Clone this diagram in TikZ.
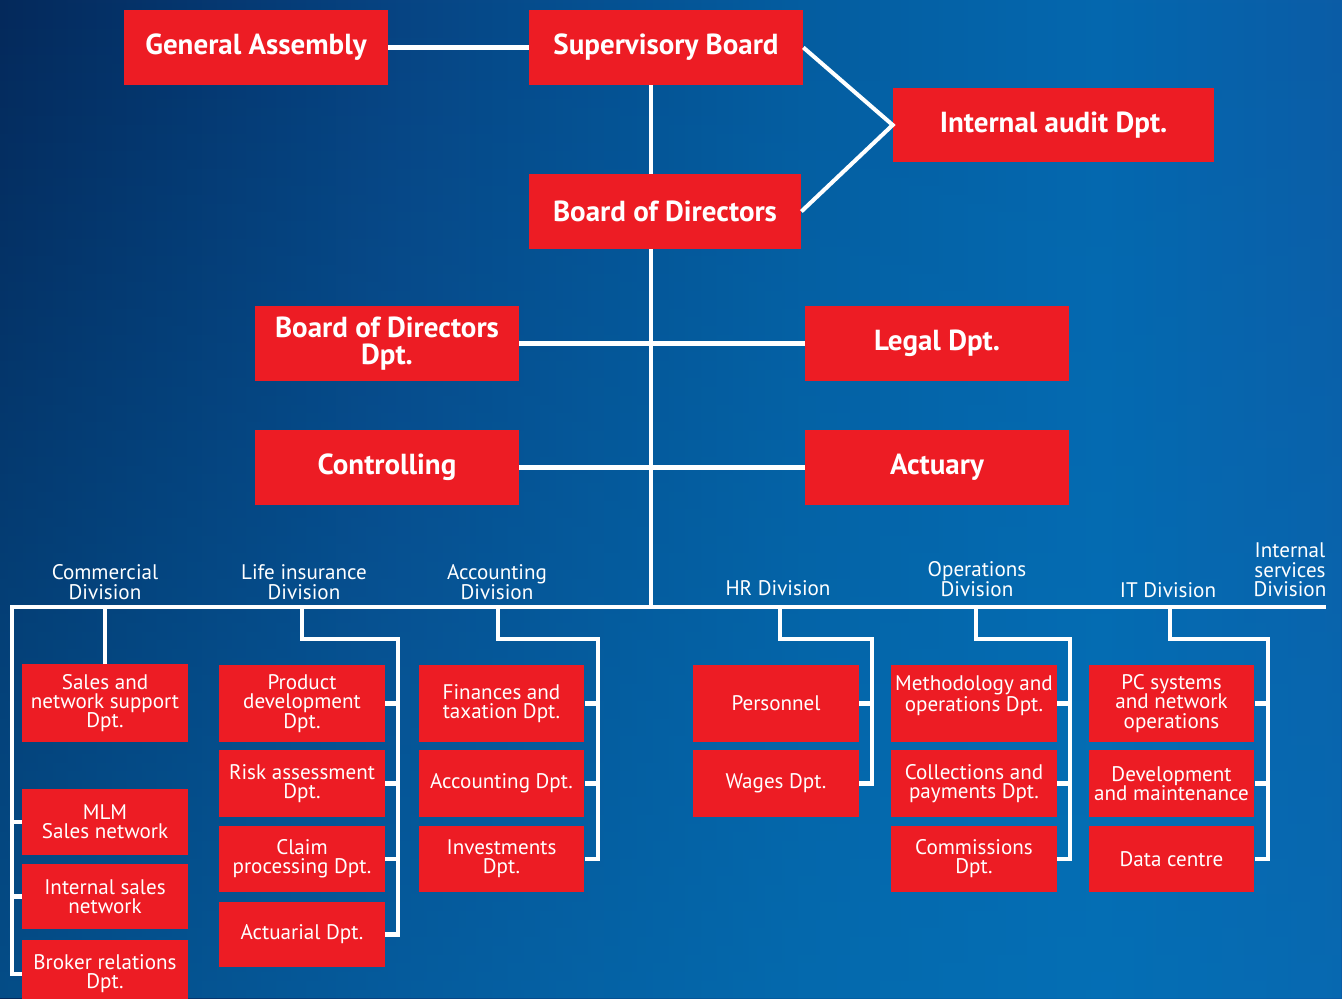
\documentclass[tikz,border=0pt]{standalone}
\usepackage{fontspec}
\setmainfont{PT Sans}
\usepackage{xcolor}
\usetikzlibrary{positioning,fadings}
\definecolor{boxred}{HTML}{ED1C24}
\definecolor{navy900}{HTML}{04295B}
\definecolor{navy700}{HTML}{074483}
\definecolor{ocean600}{HTML}{045DA0}
\definecolor{ocean500}{HTML}{0467AE}
\definecolor{ocean700}{HTML}{0B5CA6}
\definecolor{glow}{HTML}{0479BE}
\pgfdeclarehorizontalshading{bgshade}{100bp}{color(0bp)=(navy900); color(25bp)=(navy900);
  color(40bp)=(navy700); color(55bp)=(ocean600); color(66bp)=(ocean500);
  color(75bp)=(ocean700); color(100bp)=(ocean700)}
\tikzfading[name=glowup, top color=transparent!100, bottom color=transparent!55]
\tikzset{
  every node/.style={text=white},
  headbox/.style={
    rectangle, fill=boxred, inner sep=0pt,
    minimum width=5.28cm, minimum height=1.5cm,
    align=center, font=\bfseries\fontsize{16.5}{15.5}\selectfont
  },
  deptbox/.style={
    rectangle, fill=boxred, inner sep=0pt,
    minimum width=3.32cm,
    align=center, font=\fontsize{12}{10.9}\selectfont
  },
  divlabel/.style={
    align=center, font=\fontsize{12}{11.2}\selectfont
  },
  link/.style={draw=white, line width=2.3pt},
}

\begin{document}
\begin{tikzpicture}[x=0.02cm, y=-0.02cm]
  \useasboundingbox (0,0) rectangle (1342,998);
  \clip (0,0) rectangle (1342,998);
  \shade[shading=bgshade] (0,0) rectangle (1342,998);
  \fill[glow, path fading=glowup] (0,0) rectangle (1342,998);

  % management
  \node[headbox] (ga) at (256,47.5) {General Assembly};
  \node[headbox, minimum width=5.48cm] (sb) at (666,47.5) {Supervisory Board};
  \node[headbox, minimum width=6.42cm, minimum height=1.48cm] (audit) at (1053.5,125) {Internal audit Dpt.};
  \node[headbox, minimum width=5.44cm] (bod) at (665,211.5) {Board of Directors};
  \node[headbox] (bodd) at (387,343.5) {Board of Directors\\Dpt.};
  \node[headbox] (legal) at (937,343.5) {Legal Dpt.};
  \node[headbox] (ctrl) at (387,467.5) {Controlling};
  \node[headbox] (actuary) at (937,467.5) {Actuary};

  % divisions
  \node[divlabel] (dcom) at (105,582) {Commercial\\Division};
  \node[divlabel] (dlife) at (304,582) {Life insurance\\Division};
  \node[divlabel] (dacc) at (497,582) {Accounting\\Division};
  \node[divlabel] (dhr) at (778,588) {HR Division};
  \node[divlabel] (dops) at (977,579) {Operations\\Division};
  \node[divlabel] (dit) at (1168,590) {IT Division};
  \node[divlabel] (dint) at (1290,570) {Internal\\services\\Division};

  % departments
  \node[deptbox, minimum height=1.56cm] (com1) at (105,703) {Sales and\\network support\\Dpt.};
  \node[deptbox, minimum height=1.32cm] (com2) at (105,822) {MLM\\Sales network};
  \node[deptbox, minimum height=1.30cm] (com3) at (105,896.5) {Internal sales\\network};
  \node[deptbox, minimum height=1.36cm] (com4) at (105,974) {Broker relations\\Dpt.};

  \node[deptbox, minimum height=1.54cm] (life1) at (302,703.5) {Product\\development\\Dpt.};
  \node[deptbox, minimum height=1.34cm] (life2) at (302,783.5) {Risk assessment\\Dpt.};
  \node[deptbox, minimum height=1.32cm] (life3) at (302,859) {Claim\\processing Dpt.};
  \node[deptbox, minimum height=1.30cm] (life4) at (302,934.5) {Actuarial Dpt.};

  \node[deptbox, minimum height=1.54cm] (acc1) at (501.5,703.5) {Finances and\\taxation Dpt.};
  \node[deptbox, minimum height=1.34cm] (acc2) at (501.5,783.5) {Accounting Dpt.};
  \node[deptbox, minimum height=1.32cm] (acc3) at (501.5,859) {Investments\\Dpt.};

  \node[deptbox, minimum height=1.54cm] (hr1) at (776,703.5) {Personnel};
  \node[deptbox, minimum height=1.34cm] (hr2) at (776,783.5) {Wages Dpt.};

  \node[deptbox, minimum height=1.54cm] (ops1) at (974,703.5) {Methodology and\\operations Dpt.\\[0pt]};
  \node[deptbox, minimum height=1.34cm] (ops2) at (974,783.5) {Collections and\\payments Dpt.};
  \node[deptbox, minimum height=1.32cm] (ops3) at (974,859) {Commissions\\Dpt.};

  \node[deptbox, minimum height=1.54cm] (it1) at (1171.5,703.5) {PC systems\\and network\\operations};
  \node[deptbox, minimum height=1.34cm] (it2) at (1171.5,783.5) {Development\\and maintenance};
  \node[deptbox, minimum height=1.32cm] (it3) at (1171.5,859) {Data centre};

  % connectors
  \coordinate (hub) at (651,607);
  \coordinate (busW) at (12,607);
  \coordinate (busE) at (1326,607);
  \draw[link] (ga.east) -- (ga.east -| sb.west);
  \draw[link] (sb.east) -- (audit.west) -- (bod.east);
  \draw[link] (hub |- sb.south) -- (hub |- bod.north);
  \draw[link] (hub |- bod.south) -- (hub);
  \draw[link] (bodd.east) -- (legal.west);
  \draw[link] (ctrl.east) -- (actuary.west);
  \draw[link] (com4.west) -| (busW) -- (busE);
  \draw[link] (com1.north) -- (com1.north |- hub);
  \foreach \b in {com2,com3}
    \draw[link] (\b.west) -- +(-10,0);
  \foreach \top/\rail/\last in {302/398/life4, 498/598/acc3, 780/872/hr2, 976/1070/ops3, 1170/1268/it3}
    \draw[link] (\last.east) -| (\rail,639) -| (\top,607);
  \foreach \b in {life1,life2,life3,acc1,acc2,hr1,ops1,ops2,it1,it2}
    \draw[link] (\b.east) -- +(13,0);
\end{tikzpicture}
\end{document}
